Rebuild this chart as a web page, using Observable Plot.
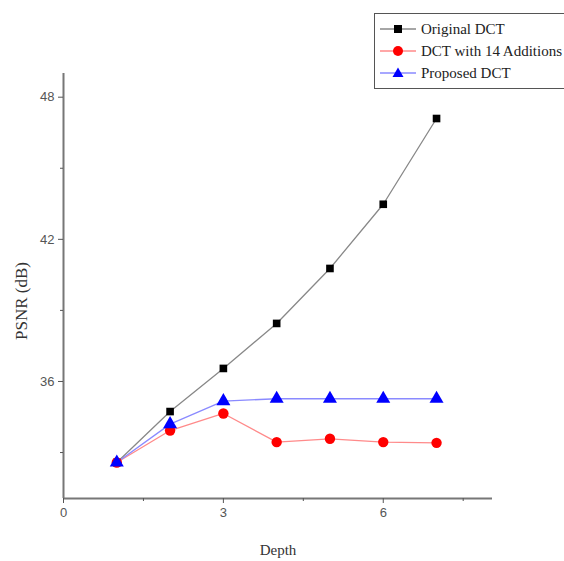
<!DOCTYPE html>
<html>
<head>
<meta charset="utf-8">
<script src="https://cdn.jsdelivr.net/npm/d3@7"></script>
<script src="https://cdn.jsdelivr.net/npm/@observablehq/plot@0.6"></script>
<style>
  body { margin: 0; background: #fff; }
  #wrap { position: relative; width: 564px; height: 561px; overflow: hidden; }
  #legend { position: absolute; left: 374px; top: 13px; width: 220px; height: 74px;
    border: 1px solid #555; background: #fff; font-family: "Liberation Serif", serif; font-size: 15px; color: #222; }
  .row { position: absolute; left: 0; height: 20px; display: flex; align-items: center; white-space: nowrap; }
  .row svg { margin-left: 5px; margin-right: 5px; }
</style>
</head>
<body>
<div id="wrap"></div>
<script>
const depth = [1, 2, 3, 4, 5, 6, 7];
const originalDCT = [32.58, 34.73, 36.55, 38.45, 40.77, 43.48, 47.1];
const dct14Add = [32.58, 33.93, 34.65, 33.44, 33.58, 33.44, 33.41];
const proposedDCT = [32.58, 34.2, 35.17, 35.27, 35.27, 35.27, 35.27];
const seriesNames = ["Original DCT", "DCT with 14 Additions", "Proposed DCT"];
const xMajor = [0, 3, 6], xMinor = [1.5, 4.5, 7.5];
const yMajor = [36, 42, 48], yMinor = [33, 39, 45];

const lineColors = ["#888888", "#ff8a8a", "#8a8aff"];
const markColors = ["#000000", "#ff0000", "#0000ff"];
const symbols = ["square", "circle", "triangle"];

const rows = [];
[originalDCT, dct14Add, proposedDCT].forEach((vals, s) =>
  vals.forEach((v, i) => rows.push({series: seriesNames[s], s, x: depth[i], y: v})));

const xDom = [0, 8.05], yDom = [31.06, 49.0];
const axisColor = "#777";
const marks = [];
[0, 1, 2].forEach(s => {
  const d = rows.filter(r => r.s === s);
  marks.push(Plot.line(d, {x: "x", y: "y", stroke: lineColors[s], strokeWidth: 1.3}));
});
[0, 1, 2].forEach(s => {
  const d = rows.filter(r => r.s === s);
  marks.push(Plot.dot(d, {x: "x", y: "y", symbol: () => symbols[s], fill: markColors[s], r: s === 0 ? 4.3 : 5.2, stroke: "none"}));
});

const chart = Plot.plot({
  width: 564, height: 561,
  marginLeft: 63, marginRight: 72, marginTop: 73, marginBottom: 63,
  x: {domain: xDom, axis: null},
  y: {domain: yDom, axis: null},
  symbol: {type: "identity"},
  style: {fontFamily: "Liberation Sans, Arial, sans-serif", fontSize: "13px", background: "#fff"},
  marks: [
    ...marks,
    Plot.ruleX([xDom[0]], {stroke: axisColor, strokeWidth: 2}),
    Plot.ruleY([yDom[0]], {stroke: axisColor, strokeWidth: 2}),
    Plot.axisX(xMajor, {tickSize: 5, tickPadding: 4, stroke: "#555", color: "#555", fontSize: 13, label: null}),
    Plot.axisX(xMinor, {tickSize: 3, tickFormat: () => "", stroke: "#555", label: null}),
    Plot.axisY(yMajor, {tickSize: 5, tickPadding: 4, stroke: "#555", color: "#555", fontSize: 13, label: null}),
    Plot.axisY(yMinor, {tickSize: 3, tickFormat: () => "", stroke: "#555", label: null}),
    Plot.text(["Depth"], {frameAnchor: "bottom", dy: 56, fontFamily: "Liberation Serif, serif", fontSize: 15, fill: "#333"}),
    Plot.text(["PSNR (dB)"], {frameAnchor: "left", textAnchor: "middle", dx: -42, dy: 15, rotate: -90, fontFamily: "Liberation Serif, serif", fontSize: 17, fill: "#333"})
  ]
});
chart.style.position = "absolute";
chart.style.left = "0px";
chart.style.top = "0px";
const wrap = document.getElementById("wrap");
wrap.appendChild(chart);

// legend
const legend = document.createElement("div");
legend.id = "legend";
seriesNames.forEach((name, s) => {
  const row = document.createElement("div");
  row.className = "row";
  row.style.top = (5 + s * 22) + "px";
  const sym = symbols[s];
  let shape;
  if (sym === "square") shape = `<rect x="14" y="6" width="8" height="8" fill="${markColors[s]}"/>`;
  else if (sym === "circle") shape = `<circle cx="18" cy="10" r="5" fill="${markColors[s]}"/>`;
  else shape = `<path d="M18,4.5 L23.5,14 L12.5,14 Z" fill="${markColors[s]}"/>`;
  row.innerHTML = `<svg width="36" height="20"><line x1="0" y1="10" x2="36" y2="10" stroke="${lineColors[s]}" stroke-width="1.3"/>${shape}</svg><span>${name}</span>`;
  legend.appendChild(row);
});
wrap.appendChild(legend);
</script>
</body>
</html>
